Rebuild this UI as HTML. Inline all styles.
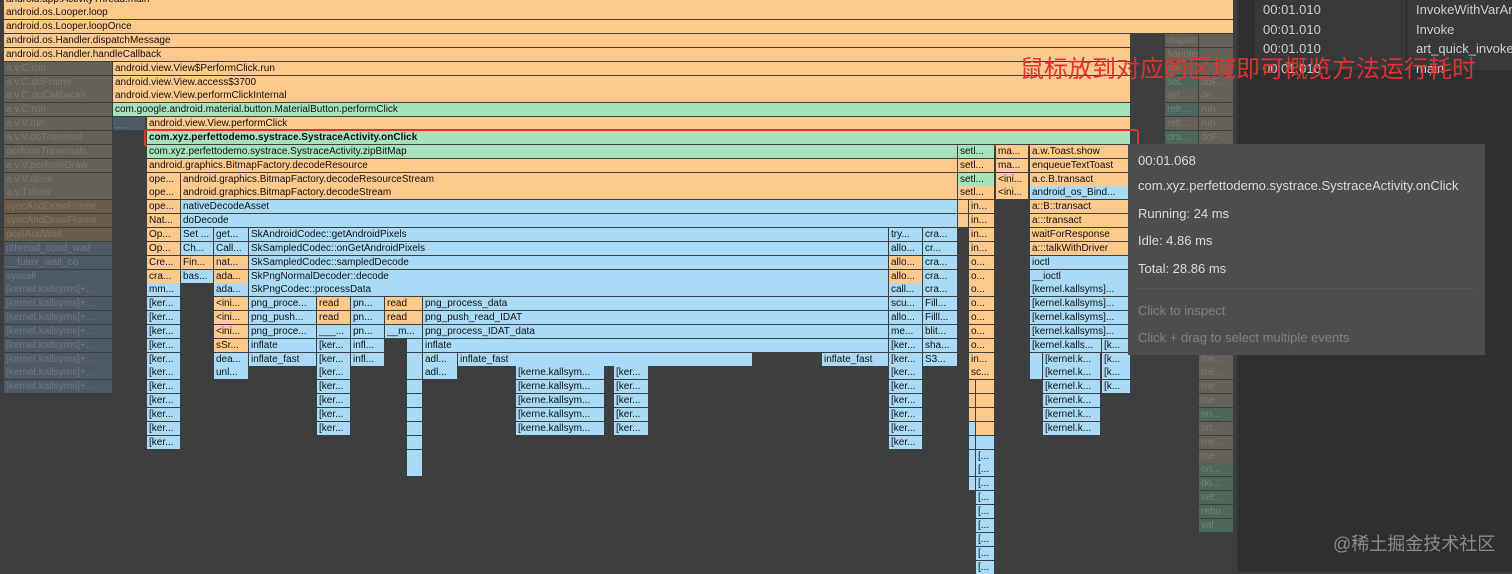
<!DOCTYPE html>
<html><head><meta charset="utf-8"><style>
body{margin:0;width:1512px;height:572px;overflow:hidden;background:#3c3e40;position:relative;font-family:"Liberation Sans",sans-serif}
.b{position:absolute;height:13px;font-size:10px;line-height:13px;color:#111;overflow:hidden;white-space:nowrap;padding-left:2px;box-sizing:border-box}
.o{background:#fdc98d}.g{background:#a6e3ba}.u{background:#a9dbf6}
.d{background:#646056;color:#7d786e}.e{background:#4d5a64;color:#6d7882}.f{background:#6a5a48;color:#85745f}
.h{background:#4c675a;color:#6c8477}
.bold{font-weight:bold}
</style></head><body>
<div class="b o" style="left:4px;top:-7px;width:1229px">android.app.ActivityThread.main</div>
<div class="b o" style="left:4px;top:6px;width:1229px">android.os.Looper.loop</div>
<div class="b o" style="left:4px;top:20px;width:1229px">android.os.Looper.loopOnce</div>
<div class="b o" style="left:4px;top:34px;width:1126px">android.os.Handler.dispatchMessage</div>
<div class="b o" style="left:4px;top:48px;width:1126px">android.os.Handler.handleCallback</div>
<div class="b d" style="left:4px;top:62px;width:108px">a.v.C.run</div>
<div class="b d" style="left:4px;top:76px;width:108px">a.v.C.doFrame</div>
<div class="b d" style="left:4px;top:89px;width:108px">a.v.C.doCallbacks</div>
<div class="b d" style="left:4px;top:103px;width:108px">a.v.C.run</div>
<div class="b d" style="left:4px;top:117px;width:108px">a.v.V.run</div>
<div class="b d" style="left:4px;top:131px;width:108px">a.v.V.doTraversal</div>
<div class="b d" style="left:4px;top:145px;width:108px">performTraversals</div>
<div class="b d" style="left:4px;top:159px;width:108px">a.v.V.performDraw</div>
<div class="b d" style="left:4px;top:173px;width:108px">a.v.V.draw</div>
<div class="b d" style="left:4px;top:186px;width:108px">a.v.T.draw</div>
<div class="b f" style="left:4px;top:200px;width:108px">syncAndDrawFrame</div>
<div class="b f" style="left:4px;top:214px;width:108px">syncAndDrawFrame</div>
<div class="b f" style="left:4px;top:228px;width:108px">postAndWait</div>
<div class="b e" style="left:4px;top:242px;width:108px">pthread_cond_wait</div>
<div class="b e" style="left:4px;top:256px;width:108px">__futex_wait_co</div>
<div class="b e" style="left:4px;top:270px;width:108px">syscall</div>
<div class="b e" style="left:4px;top:283px;width:108px">[kernel.kallsyms]+...</div>
<div class="b e" style="left:4px;top:297px;width:108px">[kernel.kallsyms]+...</div>
<div class="b e" style="left:4px;top:311px;width:108px">[kernel.kallsyms]+...</div>
<div class="b e" style="left:4px;top:325px;width:108px">[kernel.kallsyms]+...</div>
<div class="b e" style="left:4px;top:339px;width:108px">[kernel.kallsyms]+...</div>
<div class="b e" style="left:4px;top:353px;width:108px">[kernel.kallsyms]+...</div>
<div class="b e" style="left:4px;top:366px;width:108px">[kernel.kallsyms]+...</div>
<div class="b e" style="left:4px;top:380px;width:108px">[kernel.kallsyms]+...</div>
<div class="b o" style="left:113px;top:62px;width:1017px">android.view.View$PerformClick.run</div>
<div class="b o" style="left:113px;top:76px;width:1017px">android.view.View.access$3700</div>
<div class="b o" style="left:113px;top:89px;width:1017px">android.view.View.performClickInternal</div>
<div class="b g" style="left:113px;top:103px;width:1017px">com.google.android.material.button.MaterialButton.performClick</div>
<div class="b e" style="left:113px;top:117px;width:32px">__</div>
<div class="b o" style="left:147px;top:117px;width:983px">android.view.View.performClick</div>
<div class="b g bold" style="left:147px;top:131px;width:983px">com.xyz.perfettodemo.systrace.SystraceActivity.onClick</div>
<div style="position:absolute;left:144px;top:129px;width:991px;height:14px;border:2px solid #e0322e;border-radius:3px"></div>
<div class="b g" style="left:147px;top:145px;width:810px">com.xyz.perfettodemo.systrace.SystraceActivity.zipBitMap</div>
<div class="b o" style="left:147px;top:159px;width:810px">android.graphics.BitmapFactory.decodeResource</div>
<div class="b o" style="left:147px;top:173px;width:33px">ope...</div>
<div class="b o" style="left:181px;top:173px;width:776px">android.graphics.BitmapFactory.decodeResourceStream</div>
<div class="b o" style="left:147px;top:186px;width:33px">ope...</div>
<div class="b o" style="left:181px;top:186px;width:776px">android.graphics.BitmapFactory.decodeStream</div>
<div class="b o" style="left:147px;top:200px;width:33px">ope...</div>
<div class="b u" style="left:181px;top:200px;width:776px">nativeDecodeAsset</div>
<div class="b o" style="left:147px;top:214px;width:33px">Nat...</div>
<div class="b u" style="left:181px;top:214px;width:776px">doDecode</div>
<div class="b g" style="left:958px;top:145px;width:36px">setl...</div>
<div class="b o" style="left:958px;top:159px;width:36px">setl...</div>
<div class="b g" style="left:958px;top:173px;width:36px">setl...</div>
<div class="b o" style="left:958px;top:186px;width:36px">setl...</div>
<div class="b o" style="left:958px;top:200px;width:10px"></div>
<div class="b o" style="left:958px;top:214px;width:10px"></div>
<div class="b o" style="left:996px;top:145px;width:32px">ma...</div>
<div class="b o" style="left:996px;top:159px;width:32px">ma...</div>
<div class="b o" style="left:996px;top:173px;width:32px">&lt;ini...</div>
<div class="b o" style="left:996px;top:186px;width:32px">&lt;ini...</div>
<div class="b o" style="left:1030px;top:145px;width:100px">a.w.Toast.show</div>
<div class="b o" style="left:1030px;top:159px;width:100px">enqueueTextToast</div>
<div class="b o" style="left:1030px;top:173px;width:100px">a.c.B.transact</div>
<div class="b u" style="left:1030px;top:186px;width:100px">android_os_Bind...</div>
<div class="b o" style="left:1030px;top:200px;width:100px">a::B::transact</div>
<div class="b o" style="left:1030px;top:214px;width:100px">a:::transact</div>
<div class="b o" style="left:1030px;top:228px;width:100px">waitForResponse</div>
<div class="b o" style="left:1030px;top:242px;width:100px">a:::talkWithDriver</div>
<div class="b u" style="left:1030px;top:256px;width:100px">ioctl</div>
<div class="b u" style="left:1030px;top:270px;width:100px">__ioctl</div>
<div class="b u" style="left:1030px;top:283px;width:100px">[kernel.kallsyms]...</div>
<div class="b u" style="left:1030px;top:297px;width:100px">[kernel.kallsyms]...</div>
<div class="b u" style="left:1030px;top:311px;width:100px">[kernel.kallsyms]...</div>
<div class="b u" style="left:1030px;top:325px;width:100px">[kernel.kallsyms]...</div>
<div class="b u" style="left:1030px;top:339px;width:71px">[kernel.kalls...</div>
<div class="b u" style="left:1102px;top:339px;width:28px">[k...</div>
<div class="b u" style="left:1030px;top:353px;width:12px"></div>
<div class="b u" style="left:1030px;top:366px;width:12px"></div>
<div class="b u" style="left:1043px;top:353px;width:57px">[kernel.k...</div>
<div class="b u" style="left:1102px;top:353px;width:28px">[k...</div>
<div class="b u" style="left:1043px;top:366px;width:57px">[kernel.k...</div>
<div class="b u" style="left:1102px;top:366px;width:28px">[k...</div>
<div class="b u" style="left:1043px;top:380px;width:57px">[kernel.k...</div>
<div class="b u" style="left:1102px;top:380px;width:28px">[k...</div>
<div class="b u" style="left:1043px;top:394px;width:57px">[kernel.k...</div>
<div class="b u" style="left:1043px;top:408px;width:57px">[kernel.k...</div>
<div class="b u" style="left:1043px;top:422px;width:57px">[kernel.k...</div>
<div class="b o" style="left:969px;top:200px;width:25px">in...</div>
<div class="b o" style="left:969px;top:214px;width:25px">in...</div>
<div class="b o" style="left:969px;top:228px;width:25px">in...</div>
<div class="b o" style="left:969px;top:242px;width:25px">in...</div>
<div class="b o" style="left:969px;top:256px;width:25px">o...</div>
<div class="b o" style="left:969px;top:270px;width:25px">o...</div>
<div class="b o" style="left:969px;top:283px;width:25px">o...</div>
<div class="b o" style="left:969px;top:297px;width:25px">o...</div>
<div class="b o" style="left:969px;top:311px;width:25px">o...</div>
<div class="b o" style="left:969px;top:325px;width:25px">o...</div>
<div class="b o" style="left:969px;top:339px;width:25px">o...</div>
<div class="b o" style="left:969px;top:353px;width:25px">in...</div>
<div class="b o" style="left:969px;top:366px;width:25px">sc...</div>
<div class="b o" style="left:969px;top:380px;width:6px"></div><div class="b o" style="left:976px;top:380px;width:18px"></div>
<div class="b o" style="left:969px;top:394px;width:6px"></div><div class="b o" style="left:976px;top:394px;width:18px"></div>
<div class="b o" style="left:969px;top:408px;width:6px"></div><div class="b o" style="left:976px;top:408px;width:18px"></div>
<div class="b u" style="left:969px;top:422px;width:6px"></div><div class="b o" style="left:976px;top:422px;width:18px"></div>
<div class="b u" style="left:969px;top:436px;width:6px"></div><div class="b u" style="left:976px;top:436px;width:18px"></div>
<div class="b u" style="left:969px;top:450px;width:6px"></div><div class="b u" style="left:976px;top:450px;width:18px">[...</div>
<div class="b u" style="left:969px;top:463px;width:6px"></div><div class="b u" style="left:976px;top:463px;width:18px">[...</div>
<div class="b u" style="left:969px;top:477px;width:6px"></div><div class="b u" style="left:976px;top:477px;width:18px">[...</div>
<div class="b u" style="left:976px;top:491px;width:18px">[...</div>
<div class="b u" style="left:976px;top:505px;width:18px">[...</div>
<div class="b u" style="left:976px;top:519px;width:18px">[...</div>
<div class="b u" style="left:976px;top:533px;width:18px">[...</div>
<div class="b u" style="left:976px;top:547px;width:18px">[...</div>
<div class="b u" style="left:976px;top:561px;width:18px">[...</div>
<div class="b o" style="left:147px;top:228px;width:33px">Op...</div>
<div class="b o" style="left:147px;top:242px;width:33px">Op...</div>
<div class="b o" style="left:147px;top:256px;width:33px">Cre...</div>
<div class="b o" style="left:147px;top:270px;width:33px">cra...</div>
<div class="b u" style="left:147px;top:283px;width:33px">mm...</div>
<div class="b u" style="left:147px;top:297px;width:33px">[ker...</div>
<div class="b u" style="left:147px;top:311px;width:33px">[ker...</div>
<div class="b u" style="left:147px;top:325px;width:33px">[ker...</div>
<div class="b u" style="left:147px;top:339px;width:33px">[ker...</div>
<div class="b u" style="left:147px;top:353px;width:33px">[ker...</div>
<div class="b u" style="left:147px;top:366px;width:33px">[ker...</div>
<div class="b u" style="left:147px;top:380px;width:33px">[ker...</div>
<div class="b u" style="left:147px;top:394px;width:33px">[ker...</div>
<div class="b u" style="left:147px;top:408px;width:33px">[ker...</div>
<div class="b u" style="left:147px;top:422px;width:33px">[ker...</div>
<div class="b u" style="left:147px;top:436px;width:33px">[ker...</div>
<div class="b u" style="left:181px;top:228px;width:32px">Set ...</div>
<div class="b u" style="left:181px;top:242px;width:32px">Ch...</div>
<div class="b o" style="left:181px;top:256px;width:32px">Fin...</div>
<div class="b u" style="left:181px;top:270px;width:32px">bas...</div>
<div class="b u" style="left:214px;top:228px;width:34px">get...</div>
<div class="b u" style="left:214px;top:242px;width:34px">Call...</div>
<div class="b o" style="left:214px;top:256px;width:34px">nat...</div>
<div class="b o" style="left:214px;top:270px;width:34px">ada...</div>
<div class="b u" style="left:214px;top:283px;width:34px">ada...</div>
<div class="b o" style="left:214px;top:297px;width:34px">&lt;ini...</div>
<div class="b o" style="left:214px;top:311px;width:34px">&lt;ini...</div>
<div class="b o" style="left:214px;top:325px;width:34px">&lt;ini...</div>
<div class="b o" style="left:214px;top:339px;width:34px">sSr...</div>
<div class="b u" style="left:214px;top:353px;width:34px">dea...</div>
<div class="b u" style="left:214px;top:366px;width:34px">unl...</div>
<div class="b u" style="left:249px;top:228px;width:639px">SkAndroidCodec::getAndroidPixels</div>
<div class="b u" style="left:249px;top:242px;width:639px">SkSampledCodec::onGetAndroidPixels</div>
<div class="b u" style="left:249px;top:256px;width:639px">SkSampledCodec::sampledDecode</div>
<div class="b u" style="left:249px;top:270px;width:639px">SkPngNormalDecoder::decode</div>
<div class="b u" style="left:249px;top:283px;width:639px">SkPngCodec::processData</div>
<div class="b u" style="left:249px;top:297px;width:67px">png_proce...</div>
<div class="b u" style="left:249px;top:311px;width:67px">png_push...</div>
<div class="b u" style="left:249px;top:325px;width:67px">png_proce...</div>
<div class="b u" style="left:249px;top:339px;width:67px">inflate</div>
<div class="b u" style="left:249px;top:353px;width:67px">inflate_fast</div>
<div class="b o" style="left:317px;top:297px;width:33px">read</div>
<div class="b o" style="left:317px;top:311px;width:33px">read</div>
<div class="b u" style="left:317px;top:325px;width:33px">___...</div>
<div class="b u" style="left:317px;top:339px;width:33px">[ker...</div>
<div class="b u" style="left:317px;top:353px;width:33px">[ker...</div>
<div class="b u" style="left:317px;top:366px;width:33px">[ker...</div>
<div class="b u" style="left:317px;top:380px;width:33px">[ker...</div>
<div class="b u" style="left:317px;top:394px;width:33px">[ker...</div>
<div class="b u" style="left:317px;top:408px;width:33px">[ker...</div>
<div class="b u" style="left:317px;top:422px;width:33px">[ker...</div>
<div class="b u" style="left:351px;top:297px;width:33px">pn...</div>
<div class="b u" style="left:351px;top:311px;width:33px">pn...</div>
<div class="b u" style="left:351px;top:325px;width:33px">pn...</div>
<div class="b u" style="left:351px;top:339px;width:33px">infl...</div>
<div class="b u" style="left:351px;top:353px;width:33px">infl...</div>
<div class="b o" style="left:385px;top:297px;width:37px">read</div>
<div class="b o" style="left:385px;top:311px;width:37px">read</div>
<div class="b u" style="left:385px;top:325px;width:37px">__m...</div>
<div class="b u" style="left:407px;top:339px;width:15px"></div>
<div class="b u" style="left:407px;top:353px;width:15px"></div>
<div class="b u" style="left:407px;top:366px;width:15px"></div>
<div class="b u" style="left:407px;top:380px;width:15px"></div>
<div class="b u" style="left:407px;top:394px;width:15px"></div>
<div class="b u" style="left:407px;top:408px;width:15px"></div>
<div class="b u" style="left:407px;top:422px;width:15px"></div>
<div class="b u" style="left:407px;top:436px;width:15px"></div>
<div class="b u" style="left:407px;top:450px;width:15px"></div>
<div class="b u" style="left:407px;top:463px;width:15px"></div>
<div class="b u" style="left:423px;top:297px;width:465px">png_process_data</div>
<div class="b u" style="left:423px;top:311px;width:465px">png_push_read_IDAT</div>
<div class="b u" style="left:423px;top:325px;width:465px">png_process_IDAT_data</div>
<div class="b u" style="left:423px;top:339px;width:465px">inflate</div>
<div class="b u" style="left:423px;top:353px;width:34px">adl...</div>
<div class="b u" style="left:423px;top:366px;width:34px">adl...</div>
<div class="b u" style="left:458px;top:353px;width:294px">inflate_fast</div>
<div class="b u" style="left:822px;top:353px;width:66px">inflate_fast</div>
<div class="b u" style="left:516px;top:366px;width:88px">[kerne.kallsym...</div>
<div class="b u" style="left:516px;top:380px;width:88px">[kerne.kallsym...</div>
<div class="b u" style="left:516px;top:394px;width:88px">[kerne.kallsym...</div>
<div class="b u" style="left:516px;top:408px;width:88px">[kerne.kallsym...</div>
<div class="b u" style="left:516px;top:422px;width:88px">[kerne.kallsym...</div>
<div class="b u" style="left:614px;top:366px;width:34px">[ker...</div>
<div class="b u" style="left:614px;top:380px;width:34px">[ker...</div>
<div class="b u" style="left:614px;top:394px;width:34px">[ker...</div>
<div class="b u" style="left:614px;top:408px;width:34px">[ker...</div>
<div class="b u" style="left:614px;top:422px;width:34px">[ker...</div>
<div class="b u" style="left:889px;top:228px;width:33px">try...</div>
<div class="b u" style="left:889px;top:242px;width:33px">allo...</div>
<div class="b o" style="left:889px;top:256px;width:33px">allo...</div>
<div class="b o" style="left:889px;top:270px;width:33px">allo...</div>
<div class="b u" style="left:889px;top:283px;width:33px">call...</div>
<div class="b u" style="left:889px;top:297px;width:33px">scu...</div>
<div class="b u" style="left:889px;top:311px;width:33px">allo...</div>
<div class="b u" style="left:889px;top:325px;width:33px">me...</div>
<div class="b u" style="left:889px;top:339px;width:33px">[ker...</div>
<div class="b u" style="left:889px;top:353px;width:33px">[ker...</div>
<div class="b u" style="left:889px;top:366px;width:33px">[ker...</div>
<div class="b u" style="left:889px;top:380px;width:33px">[ker...</div>
<div class="b u" style="left:889px;top:394px;width:33px">[ker...</div>
<div class="b u" style="left:889px;top:408px;width:33px">[ker...</div>
<div class="b u" style="left:889px;top:422px;width:33px">[ker...</div>
<div class="b u" style="left:889px;top:436px;width:33px">[ker...</div>
<div class="b u" style="left:923px;top:228px;width:34px">cra...</div>
<div class="b u" style="left:923px;top:242px;width:34px">cr...</div>
<div class="b u" style="left:923px;top:256px;width:34px">cra...</div>
<div class="b u" style="left:923px;top:270px;width:34px">cra...</div>
<div class="b u" style="left:923px;top:283px;width:34px">cra...</div>
<div class="b u" style="left:923px;top:297px;width:34px">Fill...</div>
<div class="b u" style="left:923px;top:311px;width:34px">Filll...</div>
<div class="b u" style="left:923px;top:325px;width:34px">blit...</div>
<div class="b u" style="left:923px;top:339px;width:34px">sha...</div>
<div class="b u" style="left:923px;top:353px;width:34px">S3...</div>
<div class="b d" style="left:1165px;top:34px;width:33px">dispatchM</div>
<div class="b d" style="left:1165px;top:48px;width:33px">handleCa</div>
<div class="b d" style="left:1165px;top:62px;width:33px">run</div>
<div class="b h" style="left:1165px;top:76px;width:33px">set.</div>
<div class="b d" style="left:1165px;top:89px;width:33px">set...</div>
<div class="b h" style="left:1165px;top:103px;width:33px">refr...</div>
<div class="b d" style="left:1165px;top:117px;width:33px">refr...</div>
<div class="b h" style="left:1165px;top:131px;width:33px">dra...</div>
<div class="b d" style="left:1199px;top:34px;width:34px"></div>
<div class="b d" style="left:1199px;top:48px;width:34px"></div>
<div class="b d" style="left:1199px;top:62px;width:34px"></div>
<div class="b d" style="left:1199px;top:76px;width:34px">doF...</div>
<div class="b d" style="left:1199px;top:89px;width:34px">do...</div>
<div class="b d" style="left:1199px;top:103px;width:34px">run</div>
<div class="b d" style="left:1199px;top:117px;width:34px">run</div>
<div class="b d" style="left:1199px;top:131px;width:34px">doF...</div>
<div class="b d" style="left:1199px;top:325px;width:34px">me...</div>
<div class="b d" style="left:1199px;top:339px;width:34px">on...</div>
<div class="b d" style="left:1199px;top:353px;width:34px">me...</div>
<div class="b d" style="left:1199px;top:366px;width:34px">me...</div>
<div class="b d" style="left:1199px;top:380px;width:34px">me</div>
<div class="b d" style="left:1199px;top:394px;width:34px">me</div>
<div class="b h" style="left:1199px;top:408px;width:34px">on...</div>
<div class="b d" style="left:1199px;top:422px;width:34px">on..</div>
<div class="b d" style="left:1199px;top:436px;width:34px">me...</div>
<div class="b d" style="left:1199px;top:450px;width:34px">me</div>
<div class="b h" style="left:1199px;top:463px;width:34px">on...</div>
<div class="b h" style="left:1199px;top:477px;width:34px">do...</div>
<div class="b h" style="left:1199px;top:491px;width:34px">set...</div>
<div class="b h" style="left:1199px;top:505px;width:34px">rebo...</div>
<div class="b h" style="left:1199px;top:519px;width:34px">val</div>
<div style="position:absolute;left:1237px;top:0;width:275px;height:572px;background:#2d2f31;border-left:2px solid #333537"></div>
<div style="position:absolute;left:1255px;top:0;width:257px;height:70px;background:#37393b"></div>
<div style="position:absolute;left:1406px;top:0;width:1px;height:70px;background:#2a2b2d"></div>
<div style="position:absolute;left:1263px;top:0;font-size:13px;color:#cfcfcf;line-height:19.6px">00:01.010<br>00:01.010<br>00:01.010<br>00:01.010</div>
<div style="position:absolute;left:1416px;top:0;font-size:13px;color:#cfcfcf;line-height:19.6px;white-space:nowrap">InvokeWithVarArgs<br>Invoke<br>art_quick_invoke<br>main</div>
<div style="position:absolute;left:1020px;top:52px;font-family:'Noto Sans CJK SC',sans-serif;font-size:24px;line-height:30px;color:#e0322e;white-space:nowrap">鼠标放到对应的区域即可概览方法运行耗时</div>
<div style="position:absolute;left:1128px;top:144px;width:357px;height:211px;background:#4b4d4f;color:#dcdcdc;font-size:13px">
<div style="position:absolute;left:10px;top:9px">00:01.068</div>
<div style="position:absolute;left:10px;top:34px;white-space:nowrap">com.xyz.perfettodemo.systrace.SystraceActivity.onClick</div>
<div style="position:absolute;left:10px;top:62px">Running: 24 ms</div>
<div style="position:absolute;left:10px;top:89px">Idle: 4.86 ms</div>
<div style="position:absolute;left:10px;top:117px">Total: 28.86 ms</div>
<div style="position:absolute;left:10px;top:144px;width:337px;height:1px;background:#555759"></div>
<div style="position:absolute;left:10px;top:159px;color:#7f8183">Click to inspect</div>
<div style="position:absolute;left:10px;top:186px;color:#7f8183;white-space:nowrap">Click + drag to select multiple events</div>
</div>
<div style="position:absolute;left:1333px;top:530px;font-family:'Liberation Sans','Noto Sans CJK SC',sans-serif;font-size:18px;color:#8a8c8e;white-space:nowrap">@稀土掘金技术社区</div>
</body></html>
